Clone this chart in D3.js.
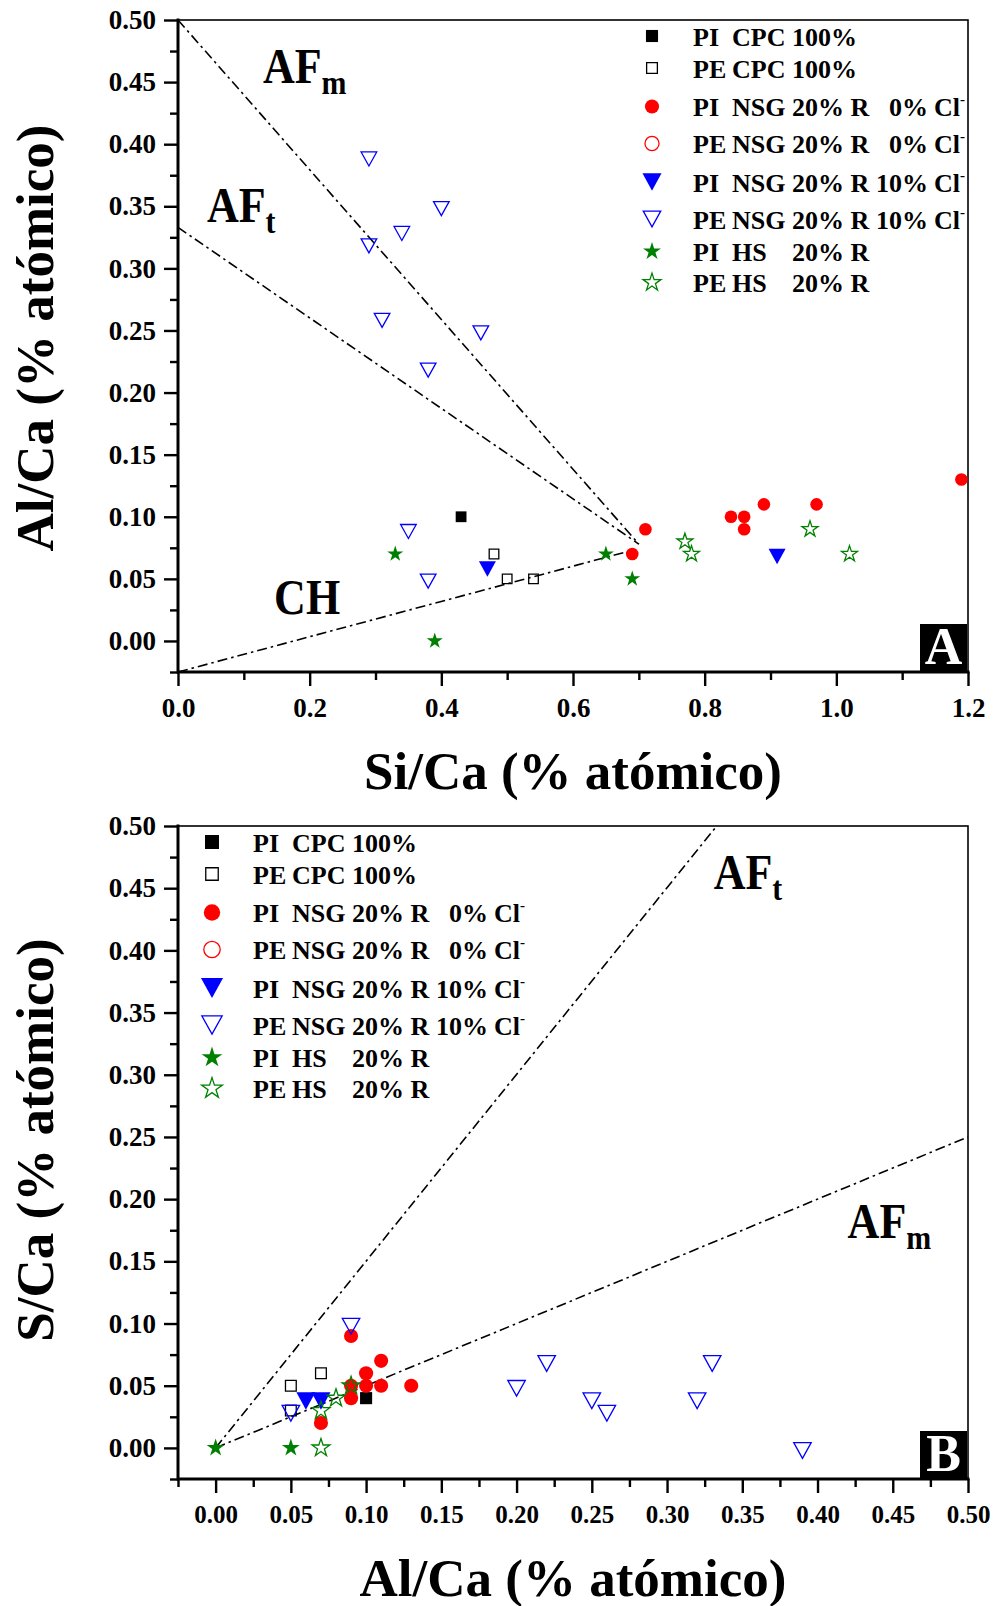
<!DOCTYPE html>
<html>
<head>
<meta charset="utf-8">
<title>Al/Ca – Si/Ca – S/Ca</title>
<script src="https://cdn.jsdelivr.net/npm/d3@7/dist/d3.min.js"></script>
<style>
  html, body { margin: 0; padding: 0; background: #ffffff; }
  svg text { font-family: "Liberation Serif", "Times New Roman", Times, serif; font-weight: bold; fill: #000; }
</style>
</head>
<body>
<svg id="fig" width="994" height="1606"></svg>
<script>
// ---------- Series (legend order, shared by both panels) ----------
const seriesPrefix   = ["PI", "PE", "PI", "PE", "PI", "PE", "PI", "PE"];
const seriesBinder   = ["CPC", "CPC", "NSG", "NSG", "NSG", "NSG", "HS", "HS"];
const seriesDose     = ["100%", "100%", "20% R", "20% R", "20% R", "20% R", "20% R", "20% R"];
const seriesChloride = ["", "", "0%", "0%", "10%", "10%", "", ""];
const seriesColor    = ["#000000", "#000000", "#ff0000", "#ff0000", "#0000ff", "#0000ff", "#008000", "#008000"];
const seriesShape    = ["square", "square", "circle", "circle", "triangle", "triangle", "star", "star"];
const seriesFilled   = [true, false, true, false, true, false, true, false];

// ---------- Panel A: Al/Ca against Si/Ca ----------
const aX_PI_CPC   = [0.43];
const aY_PI_CPC   = [0.10];
const aX_PE_CPC   = [0.48, 0.50, 0.54];
const aY_PE_CPC   = [0.07, 0.05, 0.05];
const aX_PI_NSG0  = [0.69, 0.71, 0.84, 0.86, 0.86, 0.89, 0.97, 1.19];
const aY_PI_NSG0  = [0.07, 0.09, 0.10, 0.10, 0.09, 0.11, 0.11, 0.13];
const aX_PE_NSG0  = [];
const aY_PE_NSG0  = [];
const aX_PI_NSG10 = [0.47, 0.91];
const aY_PI_NSG10 = [0.06, 0.07];
const aX_PE_NSG10 = [0.29, 0.40, 0.29, 0.34, 0.31, 0.46, 0.38, 0.35, 0.38];
const aY_PE_NSG10 = [0.39, 0.35, 0.32, 0.33, 0.26, 0.25, 0.22, 0.09, 0.05];
const aX_PI_HS    = [0.33, 0.39, 0.65, 0.69];
const aY_PI_HS    = [0.07, 0.00, 0.07, 0.05];
const aX_PE_HS    = [0.77, 0.78, 0.96, 1.02];
const aY_PE_HS    = [0.08, 0.07, 0.09, 0.07];

// phase tie lines (Si/Ca, Al/Ca)
const aAFmX = [0, 0.70],  aAFmY = [0.50, 0.078];
const aAFtX = [0, 0.70],  aAFtY = [0.333, 0.078];
const aCHX  = [0, 0.69],  aCHY  = [-0.025, 0.073];

const aXMajor = [0, 0.2, 0.4, 0.6, 0.8, 1.0, 1.2];
const aXMinor = [0.1, 0.3, 0.5, 0.7, 0.9, 1.1];
const aXTickLabels = ["0.0", "0.2", "0.4", "0.6", "0.8", "1.0", "1.2"];

// ---------- Panel B: S/Ca against Al/Ca ----------
const bX_PI_CPC   = [0.10];
const bY_PI_CPC   = [0.04];
const bX_PE_CPC   = [0.05, 0.07, 0.05];
const bY_PE_CPC   = [0.05, 0.06, 0.03];
const bX_PI_NSG0  = [0.09, 0.09, 0.09, 0.10, 0.10, 0.11, 0.11, 0.13, 0.07];
const bY_PI_NSG0  = [0.09, 0.05, 0.04, 0.06, 0.05, 0.07, 0.05, 0.05, 0.02];
const bX_PE_NSG0  = [];
const bY_PE_NSG0  = [];
const bX_PI_NSG10 = [0.06, 0.07];
const bY_PI_NSG10 = [0.04, 0.04];
const bX_PE_NSG10 = [0.09, 0.05, 0.20, 0.22, 0.25, 0.26, 0.32, 0.33, 0.39];
const bY_PE_NSG10 = [0.10, 0.03, 0.05, 0.07, 0.04, 0.03, 0.04, 0.07, 0.00];
const bX_PI_HS    = [0.00, 0.05];
const bY_PI_HS    = [0.00, 0.00];
const bX_PE_HS    = [0.07, 0.07, 0.08, 0.09];
const bY_PE_HS    = [0.00, 0.03, 0.04, 0.05];

// phase tie lines (Al/Ca, S/Ca)
const bAFtX = [0, 0.333], bAFtY = [0, 0.50];
const bAFmX = [0, 0.50],  bAFmY = [0, 0.25];

// shared 0.00–0.50 ticks
const ratioMajor = [0, 0.05, 0.10, 0.15, 0.20, 0.25, 0.30, 0.35, 0.40, 0.45, 0.50];
const ratioMinor = [-0.025, 0.025, 0.075, 0.125, 0.175, 0.225, 0.275, 0.325, 0.375, 0.425, 0.475];
const ratioTickLabels = ["0.00", "0.05", "0.10", "0.15", "0.20", "0.25", "0.30", "0.35", "0.40", "0.45", "0.50"];

// ---------- drawing ----------
const svg = d3.select("#fig");
const LEFT = 178, RIGHT = 968;
const legendRowOffsets = [16, 48, 86.5, 123.5, 162, 199, 231.5, 262.5];

function markerPath(shape, filled, k) {
  if (shape === "square") {
    const s = (filled ? 10.8 : 9.6) * k;
    return `M${-s / 2},${-s / 2}h${s}v${s}h${-s}Z`;
  }
  if (shape === "circle") return d3.symbol(d3.symbolCircle, Math.PI * Math.pow(6.3 * k, 2))();
  if (shape === "triangle") {
    // downward triangle centred on its centroid
    const w = (filled ? 17 : 15.6) * k, h = (filled ? 15.5 : 14) * k;
    return `M${-w / 2},${-h / 3}L${w / 2},${-h / 3}L0,${2 * h / 3}Z`;
  }
  return d3.symbol(d3.symbolStar, Math.pow(8.4 * k, 2) / 0.8908130915292852)();
}

function drawMarker(g, s, k, tx, ty, centreBox) {
  let dy = 0;
  // legend keys are centred on their bounding box
  if (centreBox && seriesShape[s] === "triangle") dy = -((seriesFilled[s] ? 15.5 : 14) * k) / 6;
  return g.append("path")
    .attr("d", markerPath(seriesShape[s], seriesFilled[s], k))
    .attr("transform", `translate(${tx},${ty + dy})`)
    .attr("fill", seriesFilled[s] ? seriesColor[s] : "none")
    .attr("stroke", seriesFilled[s] ? "none" : seriesColor[s])
    .attr("stroke-width", 1.3);
}

function drawLegend(g, mx, top, k) {
  seriesPrefix.forEach((pre, s) => {
    const cy = top + legendRowOffsets[s];
    drawMarker(g, s, k, mx, cy, true);
    const tx = mx + 41, by = cy + 9.5;
    const fs = 26;
    g.append("text").attr("x", tx).attr("y", by).attr("font-size", fs).text(pre);
    g.append("text").attr("x", tx + 39).attr("y", by).attr("font-size", fs).text(seriesBinder[s]);
    g.append("text").attr("x", tx + 99).attr("y", by).attr("font-size", fs).text(seriesDose[s]);
    if (seriesChloride[s]) {
      g.append("text").attr("x", tx + 235).attr("y", by).attr("font-size", fs)
        .attr("text-anchor", "end").text(seriesChloride[s]);
      const cl = g.append("text").attr("x", tx + 241).attr("y", by).attr("font-size", fs);
      cl.append("tspan").text("Cl");
      cl.append("tspan").attr("font-size", 15).attr("dy", -12).text("-");
    }
  });
}

function regionLabel(g, px, py, main, sub) {
  const t = g.append("text")
    .attr("transform", `translate(${px},${py}) scale(0.88,1)`)
    .attr("font-size", 50);
  t.append("tspan").text(main);
  t.append("tspan").attr("font-size", 34).attr("dy", 11).text(sub);
}

function drawPanel(p) {
  const g = svg.append("g");
  const x = d3.scaleLinear().domain(p.xDomain).range([LEFT, RIGHT]);
  const y = d3.scaleLinear().domain([-0.025, 0.5]).range([p.bottom, p.top]);

  const xMinorAxis = d3.axisBottom(x).tickValues(p.xMinor).tickSize(8).tickSizeOuter(0).tickFormat("");
  const xMajorAxis = d3.axisBottom(x).tickValues(p.xMajor).tickSize(14).tickSizeOuter(0)
    .tickPadding(12).tickFormat((d, i) => p.xLabels[i]);
  const yMinorAxis = d3.axisLeft(y).tickValues(ratioMinor).tickSize(8).tickSizeOuter(0).tickFormat("");
  const yMajorAxis = d3.axisLeft(y).tickValues(ratioMajor).tickSize(14).tickSizeOuter(0)
    .tickPadding(8).tickFormat((d, i) => ratioTickLabels[i]);

  [xMinorAxis, xMajorAxis].forEach(ax => {
    const a = g.append("g").attr("transform", `translate(0,${p.bottom})`).call(ax);
    a.select(".domain").remove();
    a.selectAll("line").attr("stroke", "#000").attr("stroke-width", 2.4);
    a.selectAll("text").attr("font-size", p.xFont).attr("fill", "#000");
  });
  [yMinorAxis, yMajorAxis].forEach(ax => {
    const a = g.append("g").attr("transform", `translate(${LEFT},0)`).call(ax);
    a.select(".domain").remove();
    a.selectAll("line").attr("stroke", "#000").attr("stroke-width", 2.4);
    a.selectAll("text").attr("font-size", 27).attr("fill", "#000");
  });

  // frame: thin top/right, heavy left/bottom
  g.append("rect").attr("x", LEFT).attr("y", p.top).attr("width", RIGHT - LEFT).attr("height", p.bottom - p.top)
    .attr("fill", "none").attr("stroke", "#000").attr("stroke-width", 1.6);
  g.append("path").attr("d", `M${LEFT},${p.top}V${p.bottom}H${RIGHT}`)
    .attr("fill", "none").attr("stroke", "#000").attr("stroke-width", 3).attr("stroke-linecap", "square");

  // tie lines
  const line = d3.line().x(d => x(d[0])).y(d => y(d[1]));
  p.tieLines.forEach(([xs, ys]) => {
    g.append("path").datum(xs.map((v, i) => [v, ys[i]])).attr("d", line)
      .attr("fill", "none").attr("stroke", "#000").attr("stroke-width", 1.6)
      .attr("stroke-dasharray", "10,4,2.5,4");
  });

  // region labels
  p.regions.forEach(r => regionLabel(g, x(r[0]), y(r[1]), r[2], r[3]));

  // data
  p.xs.forEach((xs, s) => {
    const ys = p.ys[s];
    xs.forEach((v, i) => drawMarker(g, s, p.markerScale, x(v), y(ys[i]), false));
  });

  // legend
  drawLegend(g, p.legendX, p.top, p.legendScale);

  // panel letter
  g.append("rect").attr("x", RIGHT - 48).attr("y", p.bottom - 48).attr("width", 47).attr("height", 47).attr("fill", "#000");
  g.append("text").attr("x", RIGHT - 24.5).attr("y", p.bottom - 8).attr("text-anchor", "middle")
    .attr("font-size", 52).style("fill", "#fff").text(p.letter);

  // axis titles
  g.append("text").attr("x", (LEFT + RIGHT) / 2).attr("y", p.xTitleY).attr("text-anchor", "middle")
    .attr("font-size", 53).text(p.xTitle);
  g.append("text").attr("transform", `translate(53,${p.yTitleY}) rotate(-90)`).attr("text-anchor", "middle")
    .attr("font-size", 53).text(p.yTitle);
}

drawPanel({
  top: 20, bottom: 672, xDomain: [0, 1.2],
  xMajor: aXMajor, xMinor: aXMinor, xLabels: aXTickLabels, xFont: 27,
  xs: [aX_PI_CPC, aX_PE_CPC, aX_PI_NSG0, aX_PE_NSG0, aX_PI_NSG10, aX_PE_NSG10, aX_PI_HS, aX_PE_HS],
  ys: [aY_PI_CPC, aY_PE_CPC, aY_PI_NSG0, aY_PE_NSG0, aY_PI_NSG10, aY_PE_NSG10, aY_PI_HS, aY_PE_HS],
  tieLines: [[aAFmX, aAFmY], [aAFtX, aAFtY], [aCHX, aCHY]],
  regions: [[0.129, 0.449, "AF", "m"], [0.044, 0.337, "AF", "t"], [0.146, 0.0215, "CH", ""]],
  markerScale: 1.0, legendX: 652, legendScale: 1.12, letter: "A",
  xTitle: "Si/Ca (% atómico)", xTitleY: 789,
  yTitle: "Al/Ca (% atómico)", yTitleY: 338
});

drawPanel({
  top: 826, bottom: 1479, xDomain: [-0.025, 0.5],
  xMajor: ratioMajor, xMinor: ratioMinor, xLabels: ratioTickLabels, xFont: 25,
  xs: [bX_PI_CPC, bX_PE_CPC, bX_PI_NSG0, bX_PE_NSG0, bX_PI_NSG10, bX_PE_NSG10, bX_PI_HS, bX_PE_HS],
  ys: [bY_PI_CPC, bY_PE_CPC, bY_PI_NSG0, bY_PE_NSG0, bY_PI_NSG10, bY_PE_NSG10, bY_PI_HS, bY_PE_HS],
  tieLines: [[bAFtX, bAFtY], [bAFmX, bAFmY]],
  regions: [[0.331, 0.449, "AF", "t"], [0.420, 0.169, "AF", "m"]],
  markerScale: 1.12, legendX: 212, legendScale: 1.3, letter: "B",
  xTitle: "Al/Ca (% atómico)", xTitleY: 1596,
  yTitle: "S/Ca (% atómico)", yTitleY: 1140
});
</script>
</body>
</html>
